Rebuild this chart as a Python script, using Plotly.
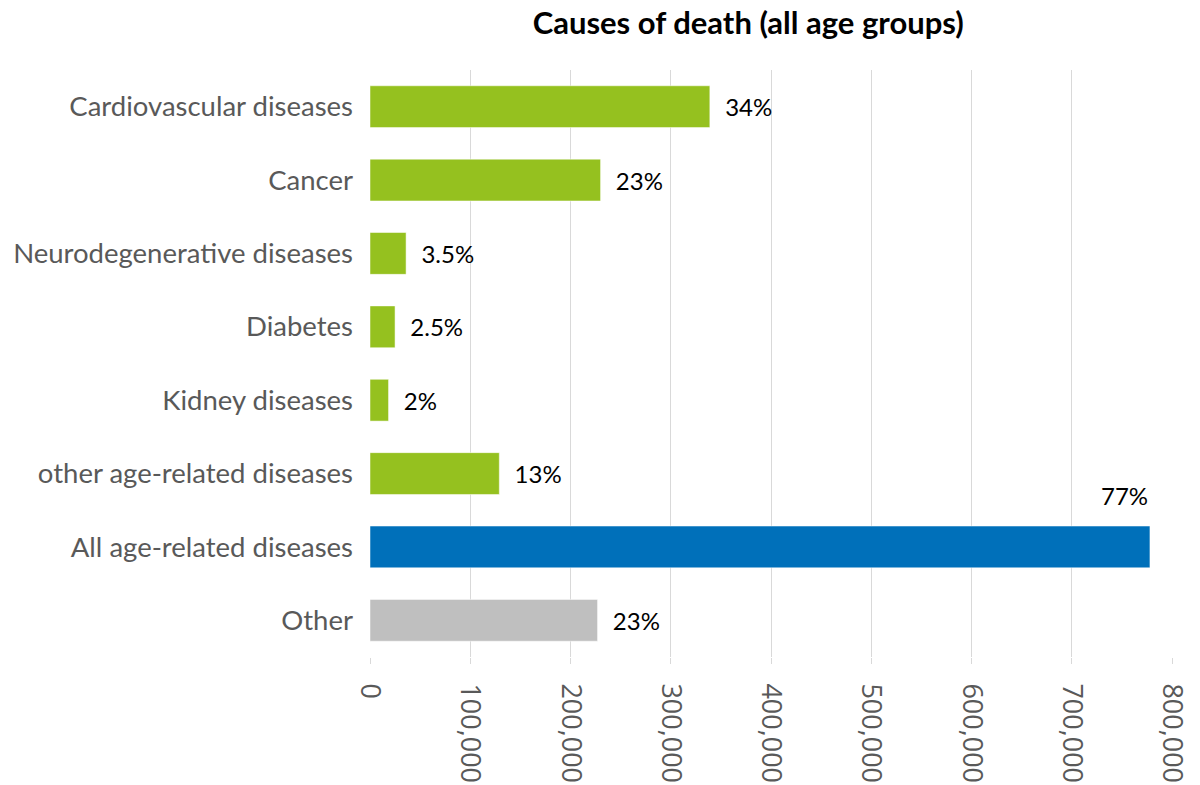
import plotly.graph_objects as go

# data (number of deaths, all age groups)
causes = ["Cardiovascular diseases", "Cancer", "Neurodegenerative diseases",
          "Diabetes", "Kidney diseases", "other age-related diseases",
          "All age-related diseases", "Other"]
deaths = [339000, 230000, 36000, 25000, 18500, 129000, 778000, 227000]
share_labels = ["34%", "23%", "3.5%", "2.5%", "2%", "13%", "77%", "23%"]
bar_colors = ["#95C11F"] * 6 + ["#0070BA", "#BFBFBF"]

x_ticks = [0, 100000, 200000, 300000, 400000, 500000, 600000, 700000, 800000]
x_tick_text = ["0", "100,000", "200,000", "300,000", "400,000",
               "500,000", "600,000", "700,000", "800,000"]

font_name = "Lato, Open Sans, sans-serif"

# the big blue bar gets its label above the bar end, like in the original
bar_text = ["  " + t for t in share_labels]
text_pos = ["outside"] * len(causes)
blue_idx = causes.index("All age-related diseases")
bar_text[blue_idx] = ""
text_pos[blue_idx] = "none"

fig = go.Figure()
fig.add_trace(go.Bar(
    y=causes, x=deaths, orientation="h",
    marker=dict(color=bar_colors, line=dict(color="rgba(255,255,255,0.5)", width=1)),
    text=bar_text, textposition=text_pos,
    textfont=dict(family=font_name, size=24, color="#000000"),
    cliponaxis=False, hoverinfo="x+y",
))

fig.add_annotation(
    x=deaths[blue_idx], y=causes[blue_idx], text=share_labels[blue_idx],
    showarrow=False, xanchor="right", yanchor="middle", yshift=51, xshift=0,
    font=dict(family=font_name, size=24, color="#000000"),
)

# page has an 8px body margin, so the figure is a bit smaller than the window
fig.update_layout(
    width=1192, height=777,
    title=dict(text="<b>Causes of death (all age groups)</b>", x=0.621, xanchor="center",
               y=0.994, yanchor="top", pad=dict(t=0),
               font=dict(family=font_name, size=31, color="#000000")),
    margin=dict(l=362, r=28, t=62, b=128),
    plot_bgcolor="white", paper_bgcolor="white",
    bargap=0.43, showlegend=False,
)
fig.update_xaxes(
    range=[0, 800000], tickvals=x_ticks, ticktext=x_tick_text, tickangle=90,
    showgrid=True, gridcolor="#D9D9D9", gridwidth=1,
    ticks="outside", ticklen=6, tickcolor="#D9D9D9",
    ticklabelstandoff=14, automargin=False,
    zeroline=False, showline=False,
    tickfont=dict(family="Open Sans, sans-serif", size=27, color="#595959"),
)
fig.update_yaxes(
    categoryorder="array", categoryarray=causes, autorange="reversed",
    showgrid=False, ticks="", ticklen=0, ticklabelstandoff=16,
    showline=False, automargin=False,
    tickfont=dict(family=font_name, size=27.5, color="#595959"),
)

fig.write_html("out.html")
